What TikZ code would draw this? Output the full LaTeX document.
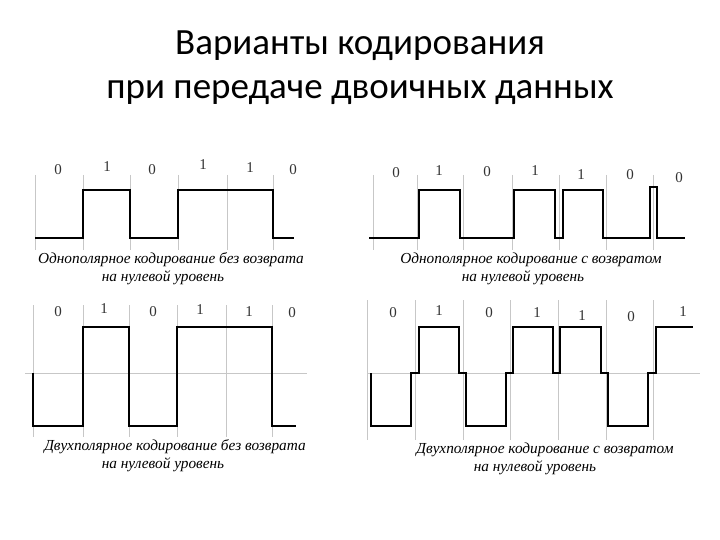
\documentclass[tikz,border=0pt]{standalone}
\usepackage{fontspec}
\setmainfont{Liberation Serif}
\newfontfamily\titlefont{Carlito}
\begin{document}
\begin{tikzpicture}[x=1pt,y=-1pt,
  gridln/.style={draw=black!22,line width=0.7pt},
  sig/.style={draw=black,line width=2.4pt,line join=miter},
  bit/.style={font=\fontsize{15}{15}\selectfont,text=black!80,inner sep=0pt},
  captxt/.style={font=\fontsize{15.3}{15.3}\selectfont\itshape,inner sep=0pt,anchor=base},
  ttl/.style={font=\titlefont\fontsize{37}{44}\selectfont,align=center,inner sep=0pt}]
\useasboundingbox (0,0) rectangle (720,540);
\fill[white] (0,0) rectangle (720,540);
% title
\node[ttl] (title) at (360,68) {Варианты кодирования\\при передаче двоичных данных};

% ---------- panel 1 ----------
\foreach \x in {35,83,130,178,227,273} \draw[gridln] (\x,175) -- (\x,250);
\draw[sig] (35,238) -- (83,238) -- (83,190) -- (130,190) -- (130,238) -- (178,238) -- (178,190) -- (273,190) -- (273,238) -- (294,238);
\node[bit] (a1) at (58,170) {0};
\node[bit] (a2) at (107,167) {1};
\node[bit] (a3) at (152,170) {0};
\node[bit] (a4) at (203,165) {1};
\node[bit] (a5) at (250,168) {1};
\node[bit] (a6) at (293,170) {0};
\node[captxt] (c1a) at (171,263) {Однополярное кодирование без возврата};
\node[captxt] (c1b) at (163,281) {на нулевой уровень};

% ---------- panel 2 ----------
\foreach \x in {373,417,463,512,559,606,653} \draw[gridln] (\x,175) -- (\x,250);
\draw[sig] (369,238) -- (419,238) -- (419,190) -- (460,190) -- (460,238) -- (514,238) -- (514,190) -- (555,190) -- (555,238) -- (563,238) -- (563,190) -- (603,190) -- (603,238) -- (650,238) -- (650,187) -- (657,187) -- (657,238) -- (685,238);
\node[bit] (b1) at (396,173) {0};
\node[bit] (b2) at (439,171) {1};
\node[bit] (b3) at (487,172) {0};
\node[bit] (b4) at (535,171) {1};
\node[bit] (b5) at (581,175) {1};
\node[bit] (b6) at (630,175) {0};
\node[bit] (b7) at (679,178) {0};
\node[captxt] (c2a) at (531,263) {Однополярное кодирование с возвратом};
\node[captxt] (c2b) at (523,281) {на нулевой уровень};

% ---------- panel 3 ----------
\foreach \x in {33,83,129,177,226,272} \draw[gridln] (\x,305) -- (\x,437);
\draw[gridln] (25,373) -- (307,373);
\draw[sig] (33,373) -- (33,426) -- (83,426) -- (83,327) -- (129,327) -- (129,426) -- (177,426) -- (177,327) -- (272,327) -- (272,426) -- (296,426);
\node[bit] (d1) at (58,312) {0};
\node[bit] (d2) at (104,309) {1};
\node[bit] (d3) at (153,312) {0};
\node[bit] (d4) at (200,310) {1};
\node[bit] (d5) at (249,312) {1};
\node[bit] (d6) at (292,313) {0};
\node[captxt] (c3a) at (175,450) {Двухполярное кодирование без возврата};
\node[captxt] (c3b) at (163,468) {на нулевой уровень};

% ---------- panel 4 ----------
\foreach \x in {367,415,463,510,558,606,653} \draw[gridln] (\x,300) -- (\x,440);
\draw[gridln] (367,373) -- (700,373);
\draw[sig] (371,373) -- (371,426) -- (411,426) -- (411,373) -- (419,373) -- (419,327) -- (459,327) -- (459,373) -- (466,373) -- (466,426) -- (506,426) -- (506,373) -- (513,373) -- (513,327) -- (553,327) -- (553,373) -- (560,373) -- (560,327) -- (601,327) -- (601,373) -- (608,373) -- (608,426) -- (648,426) -- (648,373) -- (656,373) -- (656,327) -- (693,327);
\node[bit] (e1) at (393,313) {0};
\node[bit] (e2) at (439,311) {1};
\node[bit] (e3) at (489,313) {0};
\node[bit] (e4) at (537,313) {1};
\node[bit] (e5) at (582,316) {1};
\node[bit] (e6) at (631,317) {0};
\node[bit] (e7) at (683,312) {1};
\node[captxt] (c4a) at (545,453) {Двухполярное кодирование с возвратом};
\node[captxt] (c4b) at (535,471) {на нулевой уровень};
\end{tikzpicture}
\end{document}
